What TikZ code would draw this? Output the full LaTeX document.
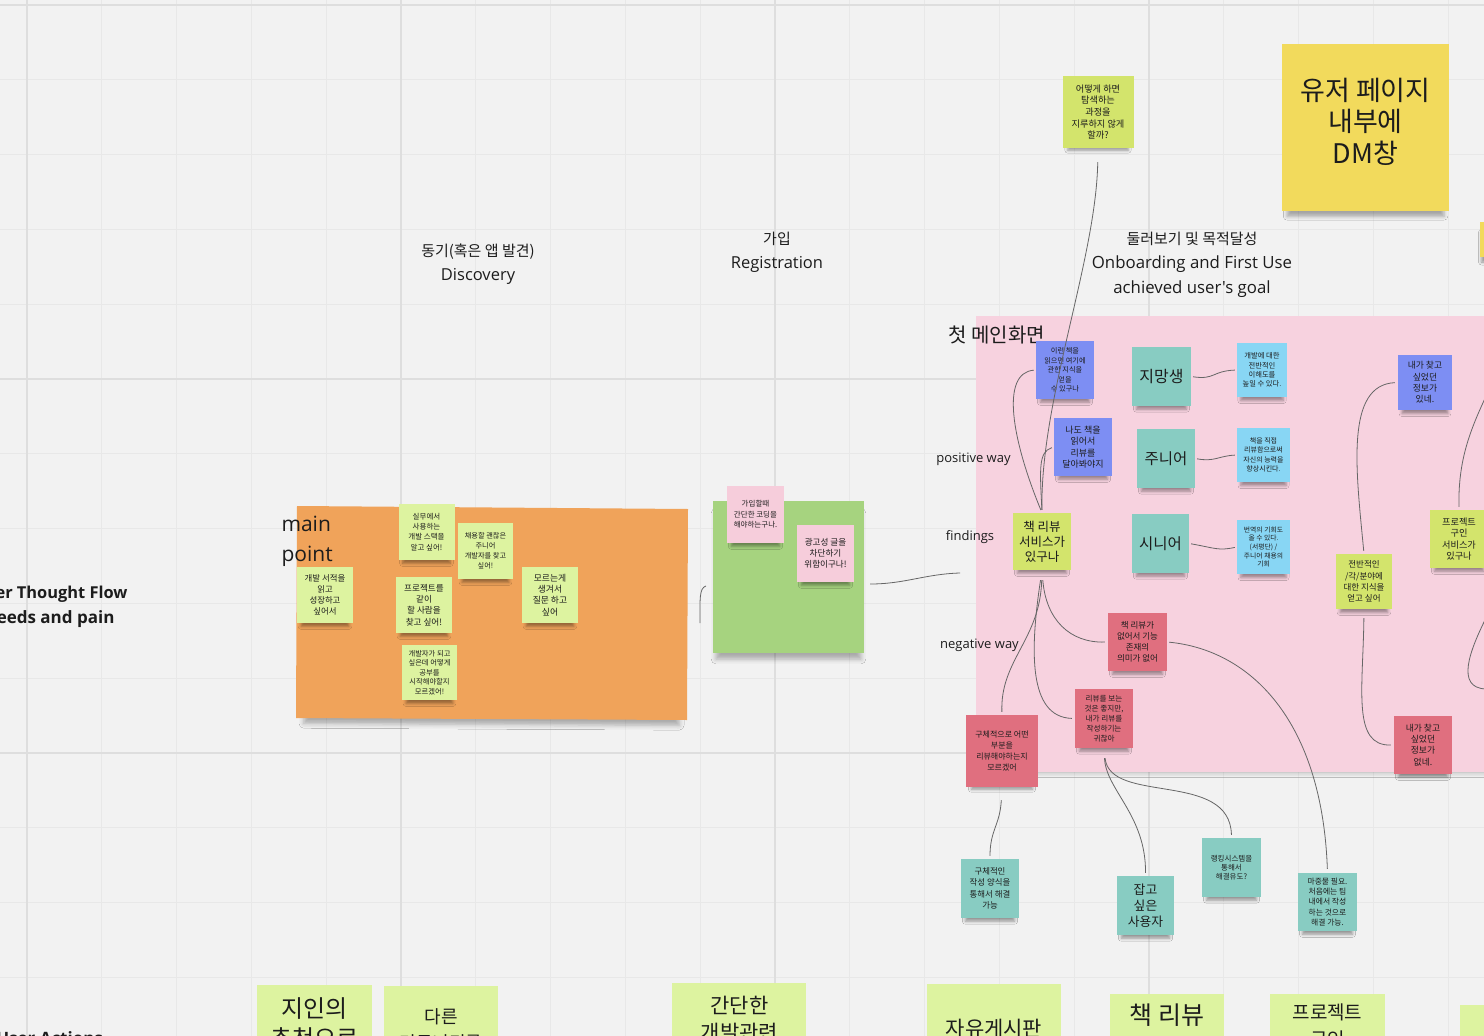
\documentclass[tikz,border=0pt]{standalone}
\usepackage{fontspec}
\setmainfont{Noto Sans CJK KR}
\newfontfamily\lat{Open Sans}
\usetikzlibrary{shadows.blur}
\newcommand{\fs}[2]{\fontsize{#1}{#2}\selectfont}
\definecolor{canvas}{HTML}{F2F2F2}
\definecolor{gridminor}{HTML}{E8E8E8}
\definecolor{gridmajor}{HTML}{DEDEDE}
\definecolor{ink}{HTML}{1C1C1C}
\definecolor{wire}{HTML}{666666}
\definecolor{orangebg}{HTML}{F0A35A}
\definecolor{greenbg}{HTML}{A6D37F}
\definecolor{pinkbg}{HTML}{F7D2DF}
\definecolor{lime}{HTML}{DDF3A0}
\definecolor{ygreen}{HTML}{D3E46C}
\definecolor{softpink}{HTML}{F6CDDB}
\definecolor{periwinkle}{HTML}{7D8EF3}
\definecolor{teal}{HTML}{88CCC2}
\definecolor{skyblue}{HTML}{88D6F4}
\definecolor{rosered}{HTML}{E06F7F}
\definecolor{sunny}{HTML}{F2DA5C}
\tikzset{
  soft/.style={blur shadow={shadow xshift=0pt, shadow yshift=-9pt, shadow blur radius=3.5pt, shadow opacity=38, shadow scale=0.85}},
  bigsoft/.style={blur shadow={shadow xshift=0pt, shadow yshift=-11pt, shadow blur radius=4pt, shadow opacity=32, shadow scale=0.94}},
  framesoft/.style={blur shadow={shadow xshift=0pt, shadow yshift=-10pt, shadow blur radius=5pt, shadow opacity=30, shadow scale=0.96}},
  note/.style n args={3}{fill=#3, minimum width=#1pt, minimum height=#2pt, inner sep=1pt,
    align=center, text=ink, soft},
  link/.style={draw=wire, line width=0.8pt},
  head/.style={text=ink, align=center},
  lab/.style={font=\lat\fs{13}{16}, text=ink},
}
\begin{document}
\begin{tikzpicture}[x=1pt,y=-1pt]
\useasboundingbox (0,0) rectangle (1484,1036);
\clip (0,0) rectangle (1484,1036);
\fill[canvas] (0,0) rectangle (1484,1036);

% board grid
\foreach \i in {0,...,19} \draw[gridminor, line width=1pt] ({27+74.8*\i},0) -- ++(0,1036);
\foreach \j in {0,...,13} \draw[gridminor, line width=1pt] (0,{5+74.8*\j}) -- ++(1484,0);
\foreach \i in {0,5,10,15} \draw[gridmajor, line width=1.2pt] ({27+74.8*\i},0) -- ++(0,1036);
\foreach \j in {0,5,10} \draw[gridmajor, line width=1.2pt] (0,{5+74.8*\j}) -- ++(1484,0);

% stage headings
\node[head, font=\fs{15}{24}] (hd1) at (478,264.5) {동기(혹은 앱 발견)\\{\lat\fs{16.5}{24}Discovery}};
\node[head, font=\fs{15}{24.5}] (hd2) at (777,252.5) {가입\\{\lat\fs{16.5}{24.5}Registration}};
\node[head, font=\fs{15}{24.5}] (hd3) at (1192,264.5) {둘러보기 및 목적달성\\{\lat\fs{16.8}{24.5}Onboarding and First Use}\\{\lat\fs{16.8}{24.5}achieved user's goal}};

% row titles on the left
\node[anchor=east, font=\lat\bfseries\fs{16.4}{20}, text=ink] (flow1) at (131,594.5) {User Thought Flow};
\node[anchor=east, font=\lat\bfseries\fs{17}{20}, text=ink] (flow2) at (118,619) {Needs and pain};
\node[anchor=east, font=\lat\bfseries\fs{17}{20}, text=ink] (acts) at (106.5,1038) {User Actions};

% frames
\path[fill=orangebg, framesoft] (297,506) -- (688,509) -- (687,720) -- (296,718) -- cycle;
\node[fill=greenbg, minimum width=151pt, minimum height=152pt, inner sep=0pt, framesoft] (reg) at (788.5,576.5) {};
\path[fill=pinkbg, framesoft] (976,316) rectangle (1500,772);

\node[anchor=west, font=\lat\fs{21}{30}, align=left, text=ink] (mp) at (278,541) {main\\point};
\node[anchor=west, font=\fs{20}{22}, text=ink] (scr) at (945,335) {첫 메인화면};
\node[lab] (pos) at (973.5,459) {positive way};
\node[lab] (fnd) at (970,537) {findings};
\node[lab] (neg) at (979.5,645) {negative way};

% motivation notes
\node[note={56}{56}{lime}, font=\fs{7.5}{10.3}] (n1) at (426.5,532) {실무에서\\사용하는\\개발 스택을\\알고 싶어!};
\node[note={55}{56}{lime}, font=\fs{7.2}{10}] (n2) at (485.5,551) {채용할 괜찮은\\주니어\\개발자를 찾고\\싶어!};
\node[note={56}{56}{lime}, font=\fs{8.4}{11}] (n3) at (325,595) {개발 서적을\\읽고\\성장하고\\싶어서};
\node[note={56}{56}{lime}, font=\fs{8.6}{11.3}] (n4) at (424,605) {프로젝트를\\같이\\할 사람을\\찾고 싶어!};
\node[note={56}{56}{lime}, font=\fs{8.8}{11.3}] (n5) at (550,595) {모르는게\\생겨서\\질문 하고\\싶어};
\node[note={55}{55}{lime}, font=\fs{7.3}{9.6}] (n6) at (429.5,672.5) {개발자가 되고\\싶은데 어떻게\\공부를\\시작해야할지\\모르겠어!};

% registration notes
\node[note={57}{57}{softpink}, font=\fs{7.5}{10.5}] (m1) at (755.5,514.5) {가입할때\\간단한 코딩을\\해야하는구나.};
\node[note={57}{57}{softpink}, font=\fs{8.6}{11}] (m2) at (825.5,553.5) {광고성 글을\\차단하기\\위함이구나!};

% top notes
\node[note={71}{72}{ygreen}, font=\fs{9.2}{11.7}] (q) at (1098,112) {어떻게 하면\\탐색하는\\과정을\\지루하지 않게\\할까?};
\node[fill=sunny, minimum width=167pt, minimum height=167pt, inner sep=0pt, bigsoft] (dm) at (1365.5,127.5) {};
\node[head, font=\fs{27}{31.5}] (dmtext) at (1365.5,121.5) {유저 페이지\\내부에\\DM창};
\node[note={20}{35}{sunny}] (edge) at (1490,239.5) {};

% first screen: findings
\node[note={58}{57}{ygreen}, font=\fs{12.5}{15}] (rv) at (1042,541.5) {책 리뷰\\서비스가\\있구나};
\node[note={58}{58}{periwinkle}, font=\fs{7.2}{9.6}] (b1) at (1065,370) {이런 책을\\읽으면 여기에\\관한 지식을\\얻을\\수 있구나};
\node[note={58}{58}{periwinkle}, font=\fs{9}{11.5}] (b2) at (1083,447) {나도 책을\\읽어서\\리뷰를\\달아봐야지};
\node[note={59}{59}{teal}, font=\fs{16}{19}] (t1) at (1161.5,376.5) {지망생};
\node[note={58}{59}{teal}, font=\fs{15.5}{19}] (t2) at (1166,458.5) {주니어};
\node[note={57}{59}{teal}, font=\fs{15.5}{19}] (t3) at (1160.5,543.5) {시니어};
\node[note={50}{54}{skyblue}, font=\fs{7.3}{9.3}] (c1) at (1262,370) {개발에 대한\\전반적인\\이해도를\\높일 수 있다.};
\node[note={53}{54}{skyblue}, font=\fs{7}{9.3}] (c2) at (1263.5,455) {책을 직접\\리뷰함으로써\\자신의 능력을\\향상시킨다.};
\node[note={53}{54}{skyblue}, font=\fs{6.8}{8.7}] (c3) at (1263.5,547) {번역의 기회도\\올 수 있다.\\(서평단) /\\주니어 채용의\\기회};
\node[note={59}{58}{rosered}, font=\fs{8.5}{11}] (r1) at (1137.5,642) {책 리뷰가\\없어서 기능\\존재의\\의미가 없어};
\node[note={58}{59}{rosered}, font=\fs{7.6}{10}] (r2) at (1104,718.5) {리뷰를 보는\\것은 좋지만,\\내가 리뷰를\\작성하기는\\귀찮아};
\node[note={72}{72}{rosered}, font=\fs{8}{10.7}] (r3) at (1002,751) {구체적으로 어떤\\부분을\\리뷰해야하는지\\모르겠어};
\node[note={54}{55}{periwinkle}, font=\fs{8.8}{11.3}] (p1) at (1425,382.5) {내가 찾고\\싶었던\\정보가\\있네.};
\node[note={58}{58}{ygreen}, font=\fs{9.2}{11.3}] (p2) at (1459,539) {프로젝트\\구인\\서비스가\\있구나};
\node[note={56}{55}{ygreen}, font=\fs{8.5}{11.3}] (p3) at (1364,581.5) {전반적인\\/각/분야에\\대한 지식을\\얻고 싶어};
\node[note={58}{58}{rosered}, font=\fs{8.8}{11.3}] (p4) at (1423,745) {내가 찾고\\싶었던\\정보가\\없네.};

% solutions below the frame
\node[note={58}{59}{teal}, font=\fs{8.4}{11.5}] (g1) at (990,888.5) {구체적인\\작성 양식을\\통해서 해결\\가능};
\node[note={57}{59}{teal}, font=\fs{12.8}{15.7}] (g2) at (1145.5,905.5) {잡고\\싶은\\사용자};
\node[note={59}{59}{teal}, font=\fs{7.5}{9.3}] (g3) at (1231.5,867.5) {랭킹시스템을\\통해서\\해결유도?};
\node[note={59}{58}{teal}, font=\fs{7.8}{10.3}] (g4) at (1327.5,902) {마중물 필요.\\처음에는 팀\\내에서 작성\\하는 것으로\\해결 가능.};

% user action notes along the bottom edge
\path[fill=lime] (257,985) rectangle (372,1100);
\path[fill=lime] (384,986) rectangle (498,1100);
\path[fill=lime] (672,983) rectangle (806,1100);
\path[fill=lime] (927,984) rectangle (1061,1100);
\path[fill=lime] (1110,994) rectangle (1224,1100);
\path[fill=lime] (1270,994) rectangle (1385,1100);
\path[fill=lime] (1460,1005) rectangle (1500,1100);
\node[head, font=\fs{24}{30}] (a1) at (314.5,1024) {지인의\\추천으로};
\node[head, font=\fs{18}{26}] (a2) at (441,1030) {다른\\커뮤니티를};
\node[head, font=\fs{21}{27}] (a3) at (739.5,1019) {간단한\\개발관련};
\node[head, font=\fs{21}{26}] (a4) at (994,1029) {자유게시판};
\node[head, font=\fs{25}{30}] (a5) at (1167,1015) {책 리뷰};
\node[head, font=\fs{19}{27}] (a6) at (1327.5,1025.5) {프로젝트\\구인};

% connectors
\coordinate (loopA) at (706,586);
\coordinate (loopB) at (700,623);
\draw[link] (loopA) .. controls (699,588) and (700,600) .. (loopB);
\coordinate (toFind) at (960,573);
\draw[link] ([shift={(6,7.5)}]reg.east) .. controls (905,584) and (925,574) .. (toFind);

\draw[link, shorten <=14pt, shorten >=3pt] (q.south) .. controls (1096,260) and (1040,400) .. (rv.north);
\draw[link, shorten <=2pt, shorten >=3pt] (b1.west) .. controls (1000,373) and (1012,440) .. (rv.north);
\draw[link, shorten <=2pt, shorten >=3pt] (b2.west) .. controls (1038,452) and (1040,470) .. (rv.north);

\draw[link, shorten <=2pt, shorten >=2pt] (t1.east) .. controls (1215,380) and (1212,371) .. (c1.west);
\draw[link, shorten <=2pt, shorten >=2pt] (t2.east) .. controls (1215,462) and (1218,456) .. (c2.west);
\draw[link, shorten <=2pt, shorten >=2pt] (t3.east) .. controls (1215,548) and (1218,551) .. (c3.west);

\draw[link, shorten <=10pt, shorten >=3pt] (rv.south) .. controls (1046,620) and (1070,643) .. (r1.west);
\draw[link, shorten <=10pt, shorten >=3pt] (rv.south) .. controls (1030,650) and (1028,717) .. (r2.west);
\draw[link, shorten <=10pt, shorten >=3pt] (rv.south) .. controls (1040,640) and (1000,660) .. (r3.north);

\draw[link, shorten <=2pt, shorten >=4pt] (r1.east) .. controls (1250,650) and (1322,720) .. (g4.north);
\draw[link, shorten <=10pt, shorten >=3pt] (r2.south) .. controls (1106,790) and (1146,815) .. (g2.north);
\draw[link, shorten <=10pt, shorten >=3pt] (r2.south) .. controls (1110,805) and (1230,770) .. (g3.north);
\draw[link, shorten <=13pt, shorten >=3pt] (r3.south) .. controls (1000,825) and (990,830) .. (g1.north);

\draw[link, shorten <=3pt, shorten >=3pt] (p3.north) .. controls (1356,470) and (1345,385) .. (p1.west);
\draw[link, shorten <=9pt, shorten >=3pt] (p3.south) .. controls (1363,690) and (1352,746) .. (p4.west);
\coordinate (offR1) at (1488,392);
\draw[link, shorten <=3pt] (p2.north) .. controls (1458,460) and (1470,430) .. (offR1);
\coordinate (offR2) at (1486,618);
\coordinate (offR3) at (1486,689);
\draw[link] (offR2) .. controls (1470,650) and (1455,688) .. (offR3);
\end{tikzpicture}
\end{document}
